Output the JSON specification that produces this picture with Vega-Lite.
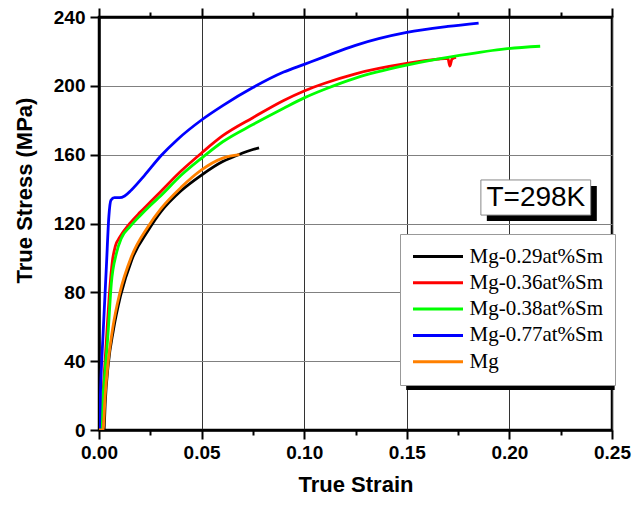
{
  "$schema": "https://vega.github.io/schema/vega-lite/v6.json",
  "width": 513,
  "height": 413,
  "autosize": {"type": "none"},
  "padding": {"left": 99, "top": 17, "right": 24, "bottom": 76},
  "background": "white",
  "config": {
    "view": {"stroke": "black", "strokeWidth": 2.5},
    "font": "Liberation Sans"
  },
  "datasets": {
    "curves": [
      {"alloy": "Mg-0.29at%Sm", "strain": 0.0025, "stress": 0},
      {"alloy": "Mg-0.29at%Sm", "strain": 0.003, "stress": 15},
      {"alloy": "Mg-0.29at%Sm", "strain": 0.0045, "stress": 38},
      {"alloy": "Mg-0.29at%Sm", "strain": 0.007, "stress": 58},
      {"alloy": "Mg-0.29at%Sm", "strain": 0.0105, "stress": 78},
      {"alloy": "Mg-0.29at%Sm", "strain": 0.016, "stress": 99},
      {"alloy": "Mg-0.29at%Sm", "strain": 0.024, "stress": 116},
      {"alloy": "Mg-0.29at%Sm", "strain": 0.0303, "stress": 127},
      {"alloy": "Mg-0.29at%Sm", "strain": 0.040, "stress": 139},
      {"alloy": "Mg-0.29at%Sm", "strain": 0.0498, "stress": 148},
      {"alloy": "Mg-0.29at%Sm", "strain": 0.0603, "stress": 156},
      {"alloy": "Mg-0.29at%Sm", "strain": 0.065, "stress": 158.5},
      {"alloy": "Mg-0.29at%Sm", "strain": 0.070, "stress": 161},
      {"alloy": "Mg-0.29at%Sm", "strain": 0.075, "stress": 163},
      {"alloy": "Mg-0.29at%Sm", "strain": 0.078, "stress": 164},

      {"alloy": "Mg-0.36at%Sm", "strain": 0.001, "stress": 0},
      {"alloy": "Mg-0.36at%Sm", "strain": 0.002, "stress": 22},
      {"alloy": "Mg-0.36at%Sm", "strain": 0.0035, "stress": 50},
      {"alloy": "Mg-0.36at%Sm", "strain": 0.005, "stress": 78},
      {"alloy": "Mg-0.36at%Sm", "strain": 0.0065, "stress": 98},
      {"alloy": "Mg-0.36at%Sm", "strain": 0.008, "stress": 107},
      {"alloy": "Mg-0.36at%Sm", "strain": 0.0101, "stress": 112},
      {"alloy": "Mg-0.36at%Sm", "strain": 0.015, "stress": 120},
      {"alloy": "Mg-0.36at%Sm", "strain": 0.020, "stress": 126.5},
      {"alloy": "Mg-0.36at%Sm", "strain": 0.025, "stress": 132.5},
      {"alloy": "Mg-0.36at%Sm", "strain": 0.030, "stress": 138.5},
      {"alloy": "Mg-0.36at%Sm", "strain": 0.040, "stress": 150.5},
      {"alloy": "Mg-0.36at%Sm", "strain": 0.050, "stress": 161},
      {"alloy": "Mg-0.36at%Sm", "strain": 0.0603, "stress": 171},
      {"alloy": "Mg-0.36at%Sm", "strain": 0.075, "stress": 181.5},
      {"alloy": "Mg-0.36at%Sm", "strain": 0.090, "stress": 191.5},
      {"alloy": "Mg-0.36at%Sm", "strain": 0.100, "stress": 197},
      {"alloy": "Mg-0.36at%Sm", "strain": 0.110, "stress": 201.5},
      {"alloy": "Mg-0.36at%Sm", "strain": 0.125, "stress": 207},
      {"alloy": "Mg-0.36at%Sm", "strain": 0.150, "stress": 213},
      {"alloy": "Mg-0.36at%Sm", "strain": 0.165, "stress": 215.5},
      {"alloy": "Mg-0.36at%Sm", "strain": 0.170, "stress": 216},
      {"alloy": "Mg-0.36at%Sm", "strain": 0.171, "stress": 211.5},
      {"alloy": "Mg-0.36at%Sm", "strain": 0.172, "stress": 215.5},
      {"alloy": "Mg-0.36at%Sm", "strain": 0.174, "stress": 216.5},

      {"alloy": "Mg-0.38at%Sm", "strain": 0.0008, "stress": 0},
      {"alloy": "Mg-0.38at%Sm", "strain": 0.002, "stress": 20},
      {"alloy": "Mg-0.38at%Sm", "strain": 0.0044, "stress": 56},
      {"alloy": "Mg-0.38at%Sm", "strain": 0.006, "stress": 85},
      {"alloy": "Mg-0.38at%Sm", "strain": 0.0085, "stress": 102.7},
      {"alloy": "Mg-0.38at%Sm", "strain": 0.0109, "stress": 111.5},
      {"alloy": "Mg-0.38at%Sm", "strain": 0.015, "stress": 118},
      {"alloy": "Mg-0.38at%Sm", "strain": 0.020, "stress": 124.5},
      {"alloy": "Mg-0.38at%Sm", "strain": 0.025, "stress": 130.5},
      {"alloy": "Mg-0.38at%Sm", "strain": 0.030, "stress": 136},
      {"alloy": "Mg-0.38at%Sm", "strain": 0.040, "stress": 148},
      {"alloy": "Mg-0.38at%Sm", "strain": 0.050, "stress": 158},
      {"alloy": "Mg-0.38at%Sm", "strain": 0.0603, "stress": 167.5},
      {"alloy": "Mg-0.38at%Sm", "strain": 0.075, "stress": 177.5},
      {"alloy": "Mg-0.38at%Sm", "strain": 0.090, "stress": 187},
      {"alloy": "Mg-0.38at%Sm", "strain": 0.100, "stress": 193},
      {"alloy": "Mg-0.38at%Sm", "strain": 0.110, "stress": 198},
      {"alloy": "Mg-0.38at%Sm", "strain": 0.125, "stress": 204.5},
      {"alloy": "Mg-0.38at%Sm", "strain": 0.150, "stress": 212},
      {"alloy": "Mg-0.38at%Sm", "strain": 0.175, "stress": 217.5},
      {"alloy": "Mg-0.38at%Sm", "strain": 0.198, "stress": 221.5},
      {"alloy": "Mg-0.38at%Sm", "strain": 0.215, "stress": 223},

      {"alloy": "Mg-0.77at%Sm", "strain": 0.0002, "stress": 0},
      {"alloy": "Mg-0.77at%Sm", "strain": 0.0008, "stress": 25},
      {"alloy": "Mg-0.77at%Sm", "strain": 0.002, "stress": 56},
      {"alloy": "Mg-0.77at%Sm", "strain": 0.0036, "stress": 95},
      {"alloy": "Mg-0.77at%Sm", "strain": 0.0048, "stress": 124},
      {"alloy": "Mg-0.77at%Sm", "strain": 0.0058, "stress": 133.5},
      {"alloy": "Mg-0.77at%Sm", "strain": 0.0075, "stress": 135},
      {"alloy": "Mg-0.77at%Sm", "strain": 0.010, "stress": 135},
      {"alloy": "Mg-0.77at%Sm", "strain": 0.0125, "stress": 136},
      {"alloy": "Mg-0.77at%Sm", "strain": 0.0158, "stress": 139.5},
      {"alloy": "Mg-0.77at%Sm", "strain": 0.0222, "stress": 148},
      {"alloy": "Mg-0.77at%Sm", "strain": 0.0303, "stress": 159.5},
      {"alloy": "Mg-0.77at%Sm", "strain": 0.0384, "stress": 169},
      {"alloy": "Mg-0.77at%Sm", "strain": 0.0498, "stress": 180},
      {"alloy": "Mg-0.77at%Sm", "strain": 0.0603, "stress": 188.5},
      {"alloy": "Mg-0.77at%Sm", "strain": 0.075, "stress": 199},
      {"alloy": "Mg-0.77at%Sm", "strain": 0.090, "stress": 208},
      {"alloy": "Mg-0.77at%Sm", "strain": 0.100, "stress": 212.5},
      {"alloy": "Mg-0.77at%Sm", "strain": 0.110, "stress": 217},
      {"alloy": "Mg-0.77at%Sm", "strain": 0.125, "stress": 223.5},
      {"alloy": "Mg-0.77at%Sm", "strain": 0.150, "stress": 231},
      {"alloy": "Mg-0.77at%Sm", "strain": 0.170, "stress": 234.5},
      {"alloy": "Mg-0.77at%Sm", "strain": 0.185, "stress": 236.5},

      {"alloy": "Mg", "strain": 0.0, "stress": 0},
      {"alloy": "Mg", "strain": 0.002, "stress": 0},
      {"alloy": "Mg", "strain": 0.003, "stress": 20},
      {"alloy": "Mg", "strain": 0.0044, "stress": 38.7},
      {"alloy": "Mg", "strain": 0.0068, "stress": 60},
      {"alloy": "Mg", "strain": 0.0101, "stress": 79.4},
      {"alloy": "Mg", "strain": 0.0158, "stress": 100.7},
      {"alloy": "Mg", "strain": 0.0238, "stress": 118},
      {"alloy": "Mg", "strain": 0.0303, "stress": 128.8},
      {"alloy": "Mg", "strain": 0.040, "stress": 141},
      {"alloy": "Mg", "strain": 0.0498, "stress": 151},
      {"alloy": "Mg", "strain": 0.0603, "stress": 158},
      {"alloy": "Mg", "strain": 0.0685, "stress": 160}
    ]
  },
  "resolve": {"axis": {"x": "independent"}},
  "layer": [
    {
      "data": {"name": "curves"},
      "mark": {"type": "line", "strokeWidth": 2.8, "interpolate": "monotone", "clip": true},
      "encoding": {
        "x": {
          "field": "strain", "type": "quantitative",
          "scale": {"domain": [0, 0.25], "nice": false, "zero": false},
          "axis": {
            "orient": "bottom",
            "title": "True Strain",
            "values": [0, 0.025, 0.05, 0.075, 0.1, 0.125, 0.15, 0.175, 0.2, 0.225, 0.25],
            "labelExpr": "round(datum.value*1000) % 50 == 0 ? format(datum.value, '.2f') : ''",
            "labelFont": "Liberation Sans", "labelFontWeight": "bold", "labelFontSize": 19, "labelColor": "black",
            "labelPadding": 4, "labelFlush": false, "labelOverlap": false,
            "titleFont": "Liberation Sans", "titleFontWeight": "bold", "titleFontSize": 22, "titleColor": "black",
            "titlePadding": 12,
            "domainColor": "black", "domainWidth": 2.5,
            "tickColor": "black", "tickWidth": 2,
            "tickSize": {"condition": {"test": "round(datum.value*1000) % 50 == 0", "value": 9}, "value": 5},
            "grid": true, "gridColor": "#333333", "gridWidth": 1,
            "gridOpacity": {"condition": {"test": "round(datum.value*1000) % 50 == 0", "value": 1}, "value": 0}
          }
        },
        "y": {
          "field": "stress", "type": "quantitative",
          "scale": {"domain": [0, 240], "nice": false},
          "axis": {
            "title": "True Stress (MPa)",
            "values": [0, 20, 40, 60, 80, 100, 120, 140, 160, 180, 200, 220, 240],
            "labelExpr": "datum.value % 40 == 0 ? format(datum.value, 'd') : ''",
            "labelFont": "Liberation Sans", "labelFontWeight": "bold", "labelFontSize": 19, "labelColor": "black",
            "labelPadding": 5, "labelFlush": false, "labelOverlap": false,
            "titleFont": "Liberation Sans", "titleFontWeight": "bold", "titleFontSize": 22, "titleColor": "black",
            "titleX": -75, "titleY": 173, "titleAngle": 270, "titleAlign": "center", "titleBaseline": "middle",
            "domainColor": "black", "domainWidth": 2.5,
            "tickColor": "black", "tickWidth": 2,
            "tickSize": {"condition": {"test": "datum.value % 40 == 0", "value": 9}, "value": 5},
            "grid": true, "gridColor": "#808080", "gridWidth": 1,
            "gridOpacity": {"condition": {"test": "datum.value % 40 == 0", "value": 1}, "value": 0}
          }
        },
        "color": {
          "field": "alloy", "type": "nominal",
          "scale": {
            "domain": ["Mg-0.29at%Sm", "Mg-0.36at%Sm", "Mg-0.38at%Sm", "Mg-0.77at%Sm", "Mg"],
            "range": ["#000000", "#FF0000", "#00FF00", "#0000FF", "#FF8000"]
          },
          "legend": {
            "orient": "none", "legendX": 301, "legendY": 217,
            "title": null,
            "fillColor": "white", "strokeColor": "#999999",
            "padding": 11.5,
            "symbolType": "stroke", "symbolSize": 2500, "symbolStrokeWidth": 3,
            "clipHeight": 22,
            "labelFont": "Liberation Serif", "labelFontSize": 21, "labelColor": "black",
            "labelOffset": 5, "rowPadding": 4.3, "labelLimit": 300
          }
        }
      }
    },
    {
      "data": {"values": [{}]},
      "mark": {"type": "rect", "color": "black"},
      "encoding": {
        "x": {"datum": 0.1497, "type": "quantitative",
          "axis": {
            "orient": "top", "title": null, "labels": false, "grid": false,
            "values": [0, 0.025, 0.05, 0.075, 0.1, 0.125, 0.15, 0.175, 0.2, 0.225, 0.25],
            "domainColor": "black", "domainWidth": 2.5,
            "tickColor": "black", "tickWidth": 2,
            "tickSize": {"condition": {"test": "round(datum.value*1000) % 50 == 0", "value": 9}, "value": 5}
          }},
        "x2": {"datum": 0.2513},
        "y": {"datum": 110.5, "type": "quantitative"},
        "y2": {"datum": 23.3}
      }
    },
    {
      "data": {"values": [{}]},
      "mark": {"type": "rect", "color": "black"},
      "encoding": {
        "x": {"datum": 0.189, "type": "quantitative", "axis": null},
        "x2": {"datum": 0.2426},
        "y": {"datum": 141.8, "type": "quantitative"},
        "y2": {"datum": 121.5}
      }
    },
    {
      "data": {"values": [{}]},
      "mark": {"type": "rect", "fill": "white", "stroke": "#888888", "strokeWidth": 1},
      "encoding": {
        "x": {"datum": 0.1861, "type": "quantitative", "axis": null},
        "x2": {"datum": 0.2396},
        "y": {"datum": 145.3, "type": "quantitative"},
        "y2": {"datum": 124.9}
      }
    },
    {
      "data": {"values": [{"label": "T=298K"}]},
      "mark": {"type": "text", "font": "Liberation Sans", "fontSize": 28, "color": "black", "align": "center", "baseline": "middle"},
      "encoding": {
        "x": {"datum": 0.2129, "type": "quantitative", "axis": null},
        "y": {"datum": 135, "type": "quantitative"},
        "text": {"field": "label"}
      }
    }
  ]
}
